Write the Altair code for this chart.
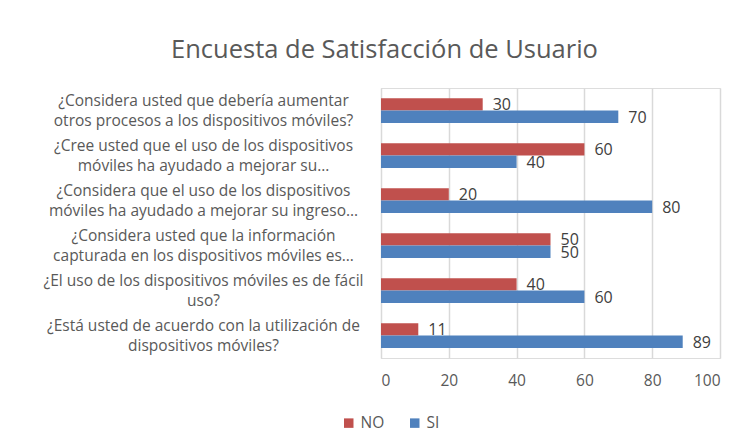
import altair as alt
import pandas as pd

categories = [
    "¿Considera usted que debería aumentar\notros procesos a los dispositivos móviles?",
    "¿Cree usted que el uso de los dispositivos\nmóviles ha ayudado a mejorar su…",
    "¿Considera que el uso de los dispositivos\nmóviles ha ayudado a mejorar su ingreso…",
    "¿Considera usted que la información\ncapturada en los dispositivos móviles es…",
    "¿El uso de los dispositivos móviles es de fácil\nuso?",
    "¿Está usted de acuerdo con la utilización de\ndispositivos móviles?",
]
series = ["NO", "SI"]
no_values = [30, 60, 20, 50, 40, 11]
si_values = [70, 40, 80, 50, 60, 89]
colors = ["#C0504D", "#4F81BD"]
x_ticks = [0, 20, 40, 60, 80, 100]

rows = []
for c, n, s in zip(categories, no_values, si_values):
    rows.append({"q": c, "serie": "NO", "v": n})
    rows.append({"q": c, "serie": "SI", "v": s})
df = pd.DataFrame(rows)

FONT = "Open Sans"
GRAY = "#595959"

y_enc = alt.Y(
    "q:N",
    sort=categories,
    scale=alt.Scale(paddingInner=0.45, paddingOuter=0.225),
    axis=alt.Axis(
        title=None,
        ticks=False,
        domain=True,
        domainColor="#D9D9D9",
        labelExpr="split(datum.label, '\\n')",
        labelAlign="center",
        labelBaseline="middle",
        labelPadding=178,
        labelOffset=-10,
        labelFont=FONT,
        labelFontSize=15.5,
        labelColor=GRAY,
        labelLineHeight=20,
        labelLimit=0,
        grid=False,
    ),
)
yoff = alt.YOffset("serie:N", sort=series, scale=alt.Scale(paddingInner=0))
x_enc = alt.X(
    "v:Q",
    scale=alt.Scale(domain=[0, 100]),
    axis=alt.Axis(
        title=None,
        values=x_ticks,
        ticks=False,
        domain=False,
        grid=True,
        gridColor="#D9D9D9",
        gridWidth=1.5,
        labelFont=FONT,
        labelFontSize=15.5,
        labelColor=GRAY,
        labelPadding=15,
    ),
)
color = alt.Color(
    "serie:N",
    sort=series,
    scale=alt.Scale(domain=series, range=colors),
    legend=alt.Legend(
        title=None,
        orient="none",
        direction="horizontal",
        legendX=-40,
        legendY=327,
        symbolType="square",
        symbolSize=90,
        symbolStrokeWidth=0,
        labelFont=FONT,
        labelFontSize=15.5,
        labelColor=GRAY,
        columnPadding=22,
        labelOffset=4,
    ),
)

bars = alt.Chart(df).mark_bar(height={"band": 1}).encode(
    y=y_enc, yOffset=yoff, x=x_enc, color=color
)
labels = alt.Chart(df).mark_text(
    align="left", baseline="middle", dx=10, dy=1, font=FONT, fontSize=16, color="#404040"
).encode(y=alt.Y("q:N", sort=categories), yOffset=yoff, x="v:Q", text="v:Q")

chart = (
    alt.layer(bars, labels)
    .properties(
        width=339,
        height=270,
        autosize=alt.AutoSizeParams(type="none"),
        padding={"left": 373, "top": 80, "right": 17, "bottom": 80},
        title=alt.TitleParams(
            "Encuesta de Satisfacción de Usuario",
            anchor="middle",
            dx=-166,
            offset=25,
            font=FONT,
            fontSize=25.5,
            fontWeight="normal",
            color=GRAY,
        ),
    )
    .configure_view(stroke=None)
    .configure(background="white")
)

chart.save("out.html", embed_options={"renderer": "svg", "actions": False})
